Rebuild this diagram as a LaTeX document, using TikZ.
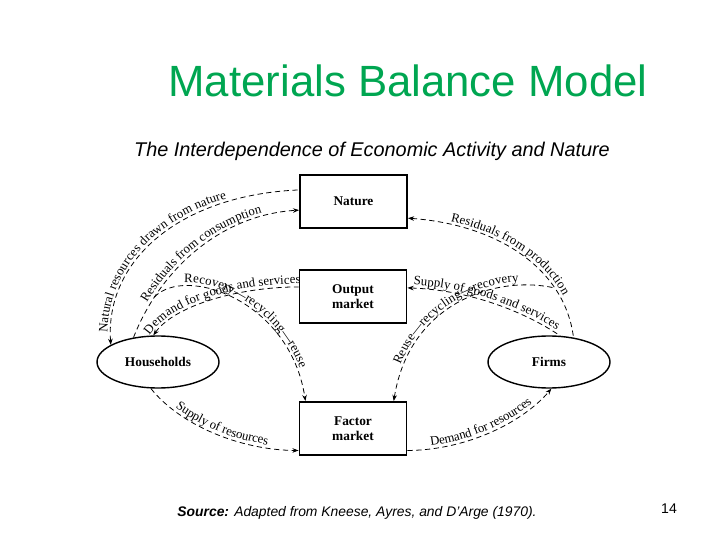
\documentclass[tikz,border=0pt]{standalone}
\usepackage{fontspec}
\setmainfont{Liberation Sans}
\newfontfamily\figserif{Liberation Serif}
\usetikzlibrary{arrows.meta,shapes.geometric,decorations.text}
\definecolor{titlegreen}{RGB}{0,166,81}
\newcommand{\arcfont}{\figserif\fontsize{7.3}{8}\selectfont}
\tikzset{
  market/.style={draw, line width=1.1pt, minimum width=2.14cm, minimum height=1.06cm,
    inner sep=0pt, align=center, font=\figserif\bfseries\fontsize{7.6}{8.6}\selectfont},
  sector/.style={draw, ellipse, line width=0.8pt, minimum width=2.44cm, minimum height=1.04cm,
    inner sep=0pt, font=\figserif\bfseries\fontsize{7.6}{8.6}\selectfont},
  flow/.style={densely dashed, line width=0.45pt},
  flowtext/.style={postaction={decorate, decoration={text along path, raise=1.8pt,
    text align=center, text={|\arcfont|#1}}}},
  flowtextleft/.style={postaction={decorate, decoration={text along path, raise=1.8pt,
    text align={left, left indent=0.24cm}, text={|\arcfont|#1}}}},
}
\begin{document}
\begin{tikzpicture}[x=0.02cm, y=-0.02cm, >={Stealth[length=3.5pt,width=2.6pt]}]
\useasboundingbox (0,0) rectangle (720,540);

% Headings
\node[anchor=base, text=titlegreen, font=\fontsize{24.9}{30}\selectfont] (title) at (408,97) {Materials Balance Model};
\node[anchor=base, font=\itshape\fontsize{11.3}{13}\selectfont] (subtitle) at (372,157) {The Interdependence of Economic Activity and Nature};

% Markets and sectors
\node[market] (nature) at (353.5,201.5) {Nature};
\node[market] (output) at (353,296.5) {Output\\market};
\node[market] (factor) at (353,428.5) {Factor\\market};
\node[sector] (hh) at (158,362) {Households};
\node[sector] (firms) at (549,362) {Firms};

% Flows between nature and the households
\draw[flow, <-, flowtextleft={Natural resources drawn from nature}]
  (hh.160) .. controls (105,260) and (180,195) .. (nature.168);
\draw[flow, ->, flowtext={Residuals from consumption}]
  (hh.135) .. controls (160,270) and (220,215) .. (nature.189) coordinate[pos=0.21] (recl);
\draw[flow, ->, flowtext={Recovery—recycling—reuse}]
  (recl) .. controls (185,265) and (290,300) .. (factor.150);
\draw[flow, <-, flowtext={Demand for goods and services}]
  (hh.100) .. controls (175,305) and (240,287) .. (output.170);

% Flows between nature and the firms
\draw[flow, <-, flowtext={Residuals from production}]
  (nature.343) .. controls (500,225) and (565,270) .. (firms.45) coordinate[pos=0.73] (recr);
\draw[flow, <-, flowtext={Reuse—recycling—recovery}]
  (factor.34) .. controls (410,300) and (500,275) .. (recr);
\draw[flow, <-, flowtext={Supply of goods and services}]
  (output.9) .. controls (470,290) and (525,312) .. (firms.67);

% Factor market flows
\draw[flow, ->, flowtext={Supply of resources}]
  (hh.255) .. controls (180,425) and (240,450) .. (factor.202);
\draw[flow, ->, flowtext={Demand for resources}]
  (factor.338) .. controls (470,450) and (525,420) .. (firms.275);

% Source and page number
\node[anchor=base, font=\fontsize{7.9}{9}\selectfont] (source) at (357,516) {\textbf{\textit{Source:}} \textit{Adapted from Kneese, Ayres, and D'Arge (1970).}};
\node[anchor=base, font=\fontsize{8}{9}\selectfont] (page) at (669,513) {14};

\end{tikzpicture}
\end{document}
